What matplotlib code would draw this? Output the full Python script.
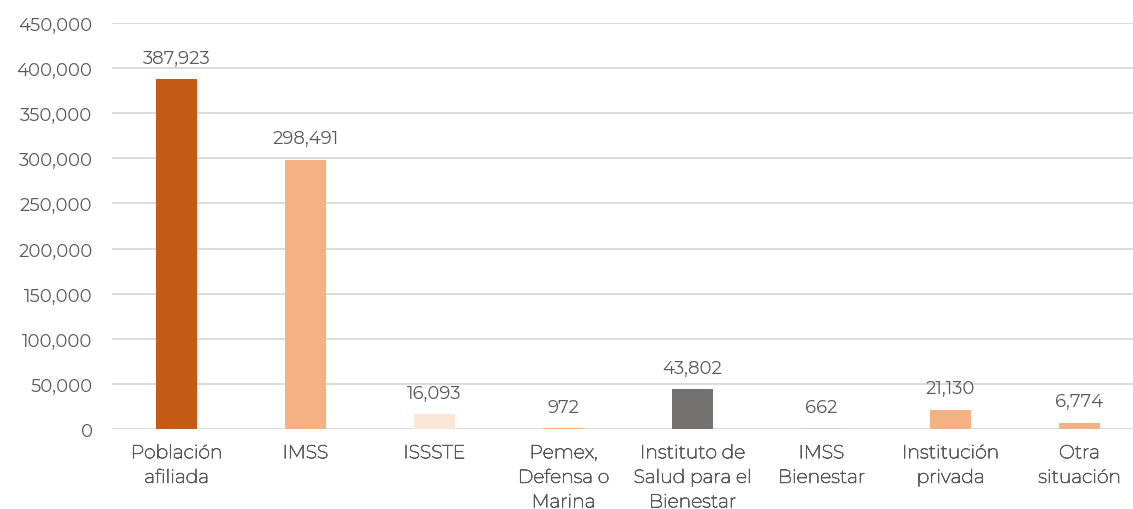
import matplotlib.pyplot as plt
import matplotlib.patheffects as pe
import numpy as np

categorias = ["Población\nafiliada", "IMSS", "ISSSTE", "Pemex,\nDefensa o\nMarina",
              "Instituto de\nSalud para el\nBienestar", "IMSS\nBienestar",
              "Institución\nprivada", "Otra\nsituación"]
valores = [387923, 298491, 16093, 972, 43802, 662, 21130, 6774]
colores = ["#C55A17", "#F4B183", "#FBE5D6", "#F4B183",
           "#767171", "#D0CECE", "#F4B183", "#F4B183"]
yticks = np.arange(0, 450001, 50000)

# Montserrat solo está como fuente variable (sale delgada): se engrosa con un trazo
plt.rcParams['font.family'] = ['Montserrat Alternates', 'DejaVu Sans']
gris = "#595959"
grosor = [pe.withStroke(linewidth=0.55, foreground=gris)]

fig = plt.figure(figsize=(11.33, 5.10), dpi=100)
ax = fig.add_axes([112 / 1133, 80 / 510, 1032 / 1133, 406 / 510])

x = np.arange(len(categorias))
barras = ax.bar(x, valores, width=0.32, color=colores, zorder=3)

for xi, v in zip(x, valores):
    ax.annotate(f"{v:,}", (xi, v), xytext=(0, 9), textcoords="offset points",
                ha="center", va="bottom", fontsize=13, color=gris)

ax.set_xlim(-0.5, 7.5)
ax.set_ylim(0, 450000)
ax.set_yticks(yticks)
ax.set_yticklabels([f"{v:,}" for v in yticks], fontsize=13, color=gris)
ax.set_xticks(x)
ax.set_xticklabels(categorias, fontsize=13.5, color=gris, linespacing=1.47,
                   family=['Montserrat', 'DejaVu Sans'], path_effects=grosor)
ax.tick_params(length=0)
ax.tick_params(axis="y", pad=14)
ax.tick_params(axis="x", pad=11)
ax.grid(axis="y", color="#D9D9D9", lw=1.3, zorder=0)
for s in ["top", "right", "left", "bottom"]:
    ax.spines[s].set_visible(False)

fig.savefig("out.png", dpi=100)
